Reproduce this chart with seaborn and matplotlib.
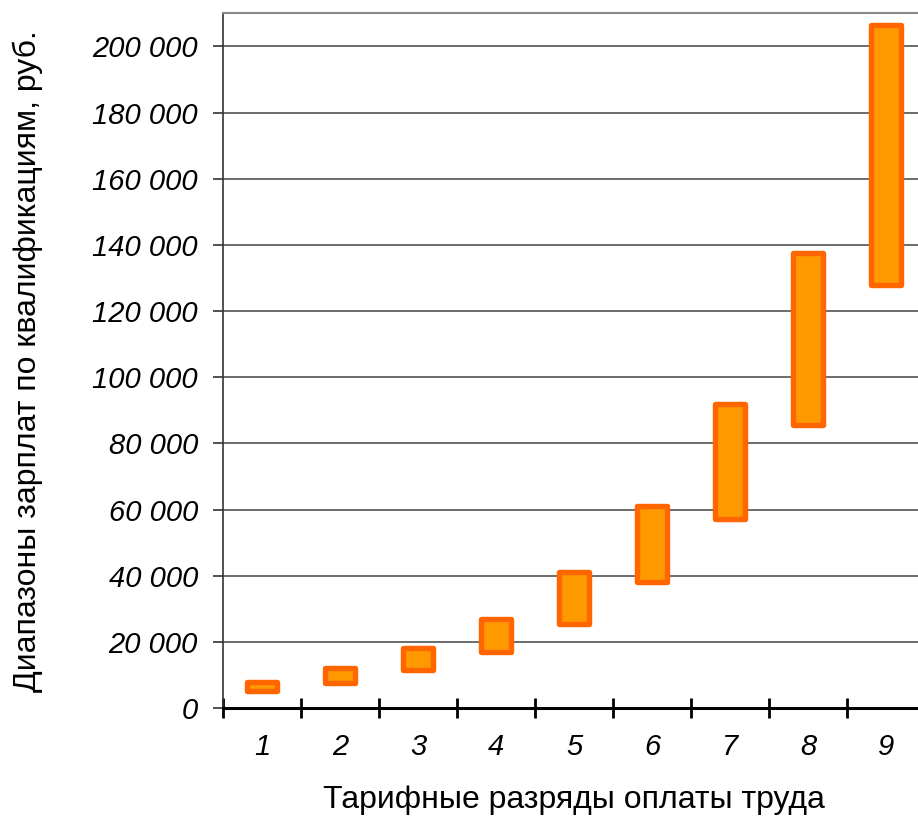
import matplotlib as mpl
mpl.use("Agg")

import matplotlib.pyplot as plt
import seaborn as sns
import pandas as pd
import numpy as np

sns.set_theme(style="white")
plt.rcParams["font.family"] = ["Liberation Sans", "DejaVu Sans"]

# salary ranges by tariff grade
grades = ["1", "2", "3", "4", "5", "6", "7", "8", "9"]
salary_low = [5000, 7500, 11500, 17000, 25500, 38000, 57000, 85500, 128000]
salary_high = [8000, 12000, 18000, 27000, 41000, 61000, 92000, 137500, 206500]
y_ticks = [0, 20000, 40000, 60000, 80000, 100000, 120000, 140000, 160000, 180000, 200000]

df = pd.DataFrame({
    "grade": grades,
    "low": salary_low,
    "span": np.array(salary_high) - np.array(salary_low),
})

fig = plt.figure(figsize=(9.18, 8.18), dpi=100)
ax = fig.add_axes([223 / 918, 1 - 708 / 818, 702 / 918, (708 - 13.3) / 818])

sns.barplot(
    data=df,
    x="grade",
    y="span",
    order=grades,
    bottom=df["low"].values,
    width=0.39,
    color="#FF9900",
    saturation=1,
    edgecolor="#FF6600",
    linewidth=3.9,
    joinstyle="round",
    zorder=3,
    ax=ax,
)

ax.set_xlim(-0.5, 8.5)
ax.set_ylim(0, 210000)

# y axis
ax.set_yticks(y_ticks)
ax.set_yticklabels([f"{v:,}".replace(",", " ") for v in y_ticks], fontstyle="italic")
ax.yaxis.grid(True, color="#444444", linewidth=1.1, zorder=0)
ax.tick_params(axis="y", direction="out", length=7, width=1.2, color="#333333",
               pad=11, labelsize=21, labelcolor="black", left=True)

# x axis: ticks between categories, labels at centers
ax.set_xticks(np.arange(-0.5, 9.0, 1.0))
ax.set_xticklabels([""] * 10)
ax.set_xticks(range(len(grades)), minor=True)
ax.set_xticklabels(grades, minor=True, fontstyle="italic")
ax.tick_params(axis="x", which="major", direction="inout", length=14, width=2,
               color="black", bottom=True)
ax.tick_params(axis="x", which="minor", length=0, pad=18, labelsize=21,
               labelcolor="black", bottom=True)

ax.spines["left"].set_color("#333333")
ax.spines["left"].set_linewidth(1.2)
ax.spines["top"].set_color("#888888")
ax.spines["top"].set_linewidth(1.5)
ax.spines["bottom"].set_color("black")
ax.spines["bottom"].set_linewidth(2.2)
ax.spines["right"].set_visible(False)

ax.set_xlabel("Тарифные разряды оплаты труда", fontsize=23, color="black", va="center")
ax.xaxis.set_label_coords(0.5, -0.132)
ax.set_ylabel("Диапазоны зарплат по квалификациям, руб.", fontsize=23, color="black", va="center")
ax.yaxis.set_label_coords(-0.278, 0.5)

fig.savefig("out.png", dpi=100)
